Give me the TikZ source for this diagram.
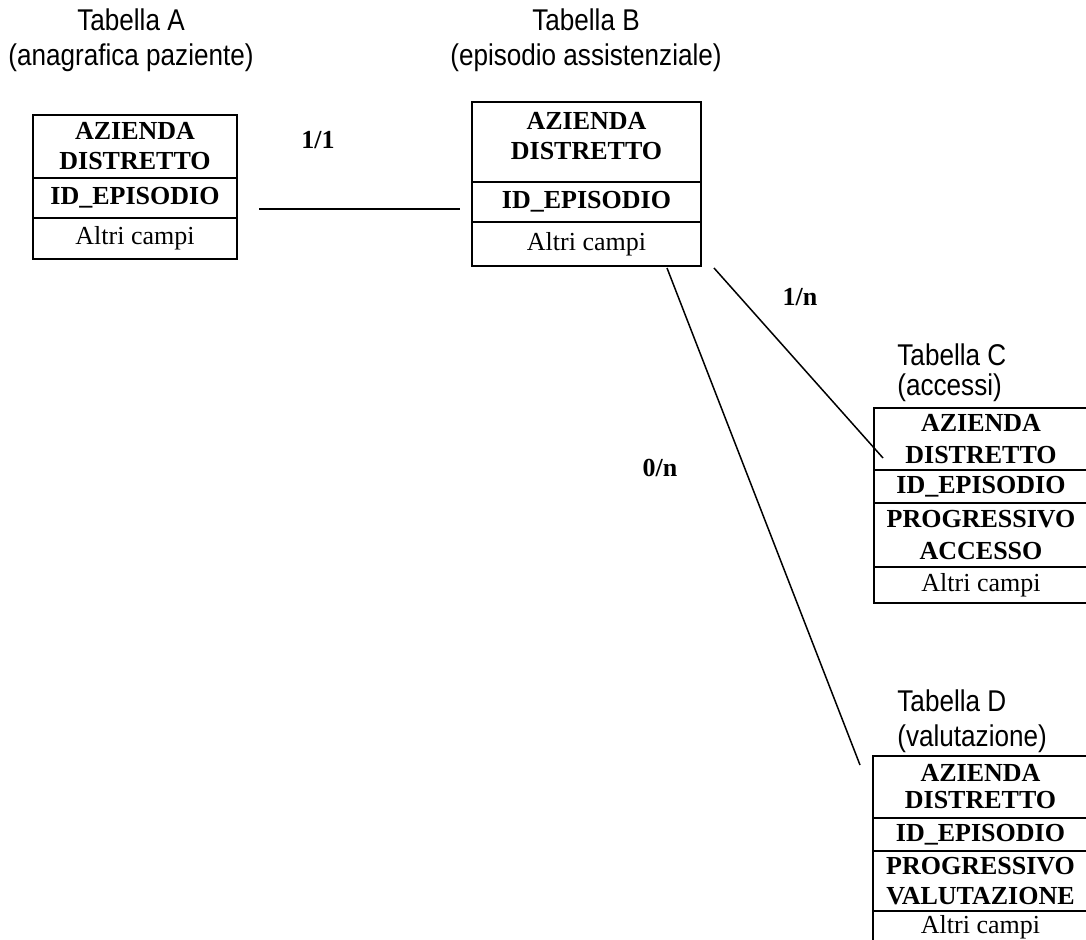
\documentclass[tikz,border=0pt]{standalone}
\usepackage{fontspec}
\setmainfont{Liberation Serif}
\newfontfamily\titolofont[FakeStretch=0.87]{Liberation Sans}
\usetikzlibrary{positioning}

\tikzset{
  cella/.style={draw, line width=1pt, inner sep=0pt, outer sep=0pt, align=center, font=\fontsize{13}{15}\selectfont\bfseries},
  altri/.style={cella, font=\fontsize{13}{15}\selectfont},
  titolo/.style={inner sep=0pt, font=\titolofont\fontsize{15}{17.5}\selectfont},
  card/.style={font=\fontsize{13}{15}\selectfont\bfseries},
  legame/.style={line width=0.75pt}
}

\begin{document}
\begin{tikzpicture}[x=0.5pt, y=-0.5pt]
    \clip (0,0) rectangle (1086,940);

    % tabella A
    \node[titolo, align=center] (ta) at (131,40) {Tabella A\\(anagrafica paziente)};
    \begin{scope}[every node/.append style={minimum width=102pt}]
      \node[cella, minimum height=31.5pt, anchor=north west] (a1) at (33,115) {AZIENDA\\DISTRETTO};
      \node[cella, minimum height=20pt, anchor=north] (a2) at (a1.south) {ID\_EPISODIO};
      \node[altri, minimum height=20.5pt, anchor=north] (a3) at (a2.south) {Altri campi};
    \end{scope}

    % tabella B
    \node[titolo, align=center] (tb) at (586,40) {Tabella B\\(episodio assistenziale)};
    \begin{scope}[every node/.append style={minimum width=114.5pt}]
      \node[cella, minimum height=40pt, text depth=6pt, anchor=north west] (b1) at (472,102) {AZIENDA\\DISTRETTO};
      \node[cella, minimum height=20pt, anchor=north] (b2) at (b1.south) {ID\_EPISODIO};
      \node[altri, minimum height=22pt, anchor=north] (b3) at (b2.south) {Altri campi};
    \end{scope}

    % tabella C
    \node[titolo, align=left, anchor=west] (tc) at (897,373) {Tabella C\\[-2.5pt](accessi)};
    \begin{scope}[every node/.append style={minimum width=107pt}]
      \node[cella, minimum height=31pt, anchor=north west] (c1) at (874,408) {AZIENDA\\[1pt]DISTRETTO};
      \node[cella, minimum height=16.5pt, anchor=north] (c2) at (c1.south) {ID\_EPISODIO};
      \node[cella, minimum height=32pt, anchor=north] (c3) at (c2.south) {PROGRESSIVO\\[1pt]ACCESSO};
      \node[altri, minimum height=18pt, anchor=north] (c4) at (c3.south) {Altri campi};
    \end{scope}

    % tabella D
    \node[titolo, align=left, anchor=west] (td) at (897,721) {Tabella D\\(valutazione)};
    \begin{scope}[every node/.append style={minimum width=107.5pt}]
      \node[cella, minimum height=31pt, anchor=north west] (d1) at (873,756) {AZIENDA\\[-1.5pt]DISTRETTO};
      \node[cella, minimum height=16.5pt, anchor=north] (d2) at (d1.south) {ID\_EPISODIO};
      \node[cella, minimum height=30pt, anchor=north] (d3) at (d2.south) {PROGRESSIVO\\VALUTAZIONE};
      \node[altri, minimum height=16pt, anchor=north] (d4) at (d3.south) {Altri campi};
    \end{scope}

    % cardinalita
    \node[card] (l11) at (318,140) {1/1};
    \node[card] (l1n) at (800,297) {1/n};
    \node[card] (l0n) at (660,468) {0/n};

    \draw[legame] ([shift={(22,11)}]a2.east) -- ([shift={(-12,7)}]b2.west);
    \draw[legame] ([shift={(13,2)}]b3.south east) -- ([shift={(9,19)}]c1.west);
    \draw[legame] ([shift={(-34,2)}]b3.south east) -- ([shift={(-13,9)}]d1.north west);
\end{tikzpicture}
\end{document}
